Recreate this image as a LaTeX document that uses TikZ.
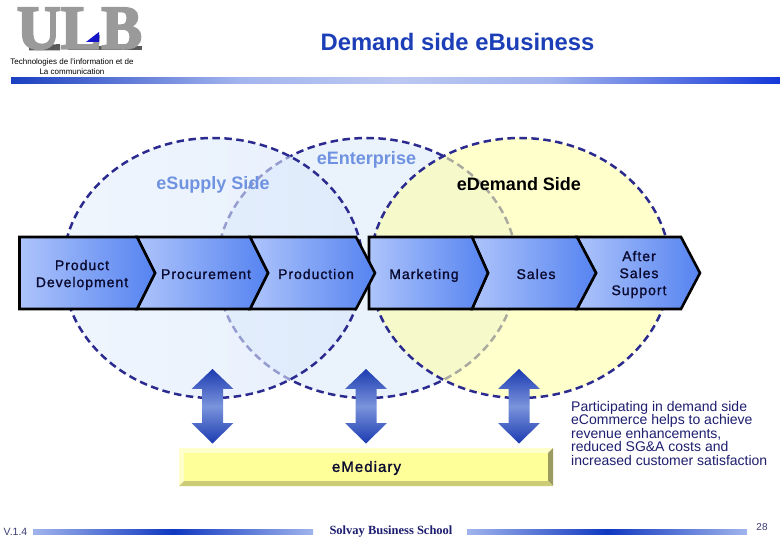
\documentclass[tikz,border=0pt]{standalone}
\usepackage{fontspec}
\setmainfont{Liberation Sans}
\newfontfamily\logoserif[FakeBold=3.5]{Liberation Serif Bold}
\newfontfamily\schoolserif{Liberation Serif}
\newfontfamily\semisans[FakeBold=1.3,LetterSpace=7]{Liberation Sans}
\definecolor{dashnavy}{HTML}{2B2B8F}
\definecolor{inktext}{HTML}{0A0A30}
\definecolor{paleblue}{HTML}{6F93E0}
\definecolor{titleblue}{HTML}{1C3FB8}
\definecolor{notenavy}{HTML}{1E1E70}
\definecolor{HB0}{HTML}{1A3FC0}
\definecolor{HB1}{HTML}{A4B5EE}
\definecolor{HB2}{HTML}{BCC8F2}
\definecolor{HB3}{HTML}{1438D8}
\definecolor{chevlight}{HTML}{AEC4FB}
\definecolor{chevdark}{HTML}{5583F0}
\definecolor{arrowdark}{HTML}{1C3BB0}
\definecolor{arrowmid}{HTML}{7A94DC}
\definecolor{footend}{HTML}{A0B4EC}
\definecolor{footmid}{HTML}{1038C0}
\definecolor{midzone}{HTML}{EAF2FC}
\definecolor{leftzoneA}{HTML}{E6F0FD}
\definecolor{leftzoneB}{HTML}{D8E6FB}
\definecolor{rightzone}{HTML}{FFFFAA}
\definecolor{mediarytop}{HTML}{FFFFCC}
\definecolor{mediaryright}{HTML}{9B9B5F}
\definecolor{mediarybottom}{HTML}{CCCC77}
\definecolor{mediarymain}{HTML}{FFFF99}
\definecolor{logoshadow}{HTML}{5A5A5A}
\definecolor{logoface}{HTML}{9A9A9A}
\definecolor{logoblue}{HTML}{1414C8}
\pgfdeclarehorizontalshading{headerbarb}{100bp}{color(0bp)=(HB0); color(25bp)=(HB0); color(40bp)=(HB1); color(50bp)=(HB2); color(60bp)=(HB1); color(75bp)=(HB3); color(100bp)=(HB3)}
\tikzset{
  zone/.style={line width=2.5pt,dash pattern=on 7.5pt off 4.5pt,draw=dashnavy},
  chevshade/.style={draw=black,line width=2.6pt,line join=miter,left color=chevlight,right color=chevdark},
  chevtext/.style={font=\fontsize{14}{17}\selectfont\semisans,text=inktext,align=center,inner sep=0pt},
  zonetext/.style={font=\fontsize{18}{20}\selectfont\bfseries,inner sep=0pt},
  updown/.style={top color=arrowdark,bottom color=arrowdark,middle color=arrowmid,draw=none},
  footbar/.style={left color=footend,right color=footend,middle color=footmid,draw=none},
}
\begin{document}
\begin{tikzpicture}[x=1pt,y=-1pt]
\useasboundingbox (0,0) rectangle (780,540);
% zones
\fill[white] (0,0) rectangle (780,540);
\path[zone,fill=midzone] (367,268) ellipse [x radius=150,y radius=130];
\path[left color=leftzoneA,right color=leftzoneB,fill opacity=.6] (213,268) ellipse [x radius=150,y radius=130];
\path[fill=rightzone,fill opacity=.6] (520,268) ellipse [x radius=150,y radius=130];
\draw[zone] (213,268) ellipse [x radius=150,y radius=130];
\draw[zone] (520,268) ellipse [x radius=150,y radius=130];
% zone labels
\node[zonetext,text=paleblue] (supply) at (213,184.5) {eSupply Side};
\node[zonetext,text=paleblue] (enterprise) at (366.5,160) {eEnterprise};
\node[zonetext,text=black] (demand) at (519,184) {eDemand Side};
% chevrons, right to left so each tip lies on its neighbour
\path[chevshade] (577,237)--(681,237)--(700,273)--(681,309)--(577,309)--(596,273)--cycle;
\path[chevshade] (472,237)--(577,237)--(596,273)--(577,309)--(472,309)--(488,273)--cycle;
\path[chevshade] (369,237)--(472,237)--(488,273)--(472,309)--(369,309)--cycle;
\path[chevshade] (250,237)--(356,237)--(375,273)--(356,309)--(250,309)--(268,273)--cycle;
\path[chevshade] (137,237)--(250,237)--(268,273)--(250,309)--(137,309)--(155,273)--cycle;
\path[chevshade] (19.5,237)--(137,237)--(155,273)--(137,309)--(19.5,309)--cycle;
\node[chevtext] (product) at (82,275) {Product\\Development};
\node[chevtext,anchor=base] (procurement) at (206,279) {Procurement};
\node[chevtext,anchor=base] (production) at (316,279) {Production};
\node[chevtext,anchor=base] (marketing) at (424,279) {Marketing};
\node[chevtext,anchor=base] (sales) at (536,279) {Sales};
\node[chevtext] (aftersales) at (639,274.5) {After\\Sales\\Support};
% double arrows
\foreach \cx in {212.5,366,519}{
\path[updown] (\cx,369)--(\cx+21,389)--(\cx+10.5,389)--(\cx+10.5,423)--(\cx+21,423)--(\cx,443.5)--(\cx-21,423)--(\cx-10.5,423)--(\cx-10.5,389)--(\cx-21,389)--cycle;
}
% eMediary bar
\fill[mediarytop] (179,448)--(553,448)--(548,453)--(184,453)--cycle;
\fill[mediarytop] (179,448)--(184,453)--(184,481)--(179,486)--cycle;
\fill[mediaryright] (553,448)--(553,486)--(548,481)--(548,453)--cycle;
\fill[mediarybottom] (179,486)--(553,486)--(548,481)--(184,481)--cycle;
\fill[mediarymain] (184,453) rectangle (548,481);
\node[font=\fontsize{15}{18}\selectfont\semisans,text=inktext,inner sep=0pt] (emediary) at (366.5,468) {eMediary};
% note
\node[font=\fontsize{14}{13.5}\selectfont,text=notenavy,align=left,anchor=west,inner sep=0pt] (note) at (571,433) {Participating in demand side\\eCommerce helps to achieve\\revenue enhancements,\\reduced SG\&A costs and\\increased customer satisfaction};
% header
\node[font=\fontsize{23.8}{26}\selectfont\bfseries,text=titleblue,inner sep=0pt] (title) at (457.5,42) {Demand side eBusiness};
\path[shading=headerbarb] (11,78) rectangle (780,84);
% logo: a drawn shadow under the letters, then the letters
\fill[logoshadow] (29,46)--(60,44)--(60,50.5)--(29,50.5)--cycle;
\fill[logoshadow] (68,46) rectangle (142,50.5);
\node[font=\logoserif\fontsize{62}{62}\selectfont,text=logoface,xscale=.98,anchor=base,inner sep=0pt] (logo) at (79.5,48.5) {ULB};
\fill[logoblue] (86,42)--(99,32)--(99,42)--cycle;
\node[font=\fontsize{8}{10}\selectfont,text=black,inner sep=0pt,align=center] (dept) at (72,67) {Technologies de l'information et de\\La communication};
% footer
\node[font=\fontsize{10.5}{12}\selectfont,text=notenavy!70!gray,inner sep=0pt] (version) at (15.5,532) {V.1.4};
\path[footbar] (33,529) rectangle (313,534.5);
\node[font=\schoolserif\bfseries\fontsize{12.5}{14}\selectfont,text=notenavy,inner sep=0pt] (school) at (391,531.5) {Solvay Business School};
\path[footbar] (467,529) rectangle (747,534.5);
\node[font=\fontsize{10}{12}\selectfont,text=notenavy!70!gray,inner sep=0pt] (page) at (762,527) {28};
\end{tikzpicture}
\end{document}
